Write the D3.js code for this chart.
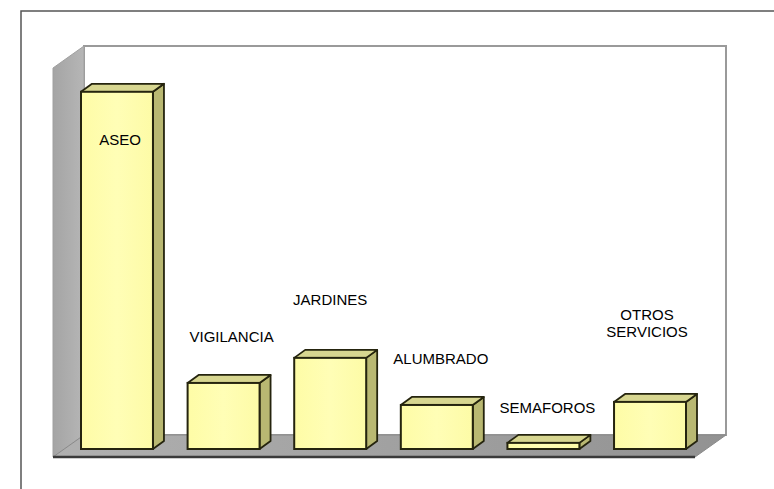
<!DOCTYPE html>
<html>
<head>
<meta charset="utf-8">
<script src="https://cdn.jsdelivr.net/npm/d3@7"></script>
<style>
  body { margin: 0; background: #fff; }
  text { font-family: "Liberation Sans", Arial, sans-serif; font-size: 15px; fill: #000; }
</style>
</head>
<body>
<script>
// data (percent share)
const categories = ["ASEO", "VIGILANCIA", "JARDINES", "ALUMBRADO", "SEMAFOROS", "OTROS SERVICIOS"];
const values = [58.4, 10.8, 14.9, 7.2, 1.0, 7.7];
// label placement: lift above bar top (negative = inside bar), sideways nudge
const labelLift = [-48, 46, 58, 46, 35, 70];
const labelShift = [3, 8, 0, 4, 4, -3];

const W = 774, H = 489;
const svg = d3.select("body").append("svg").attr("width", W).attr("height", H);

// gradients
const defs = svg.append("defs");
const gFront = defs.append("linearGradient").attr("id", "front").attr("x1", 0).attr("x2", 1);
gFront.append("stop").attr("offset", "0%").attr("stop-color", "#fefca6");
gFront.append("stop").attr("offset", "50%").attr("stop-color", "#fffeb6");
gFront.append("stop").attr("offset", "100%").attr("stop-color", "#fdfba6");
const gFloor = defs.append("linearGradient").attr("id", "floor").attr("x1", 0).attr("x2", 1);
gFloor.append("stop").attr("offset", "0%").attr("stop-color", "#b0b0b0");
gFloor.append("stop").attr("offset", "100%").attr("stop-color", "#929292");
const gWall = defs.append("linearGradient").attr("id", "wall").attr("x1", 0).attr("x2", 1);
gWall.append("stop").attr("offset", "0%").attr("stop-color", "#a4a4a4");
gWall.append("stop").attr("offset", "100%").attr("stop-color", "#b6b6b6");

// outer frame
svg.append("rect").attr("x", 21).attr("y", 11).attr("width", 800).attr("height", 600)
  .attr("fill", "none").attr("stroke", "#555").attr("stroke-width", 1.5);

// 3d box geometry
const front = { x0: 53, x1: 695, y: 457 };
const depth = { dx: 31, dy: -22 };
const wallTop = 46;

// back wall
svg.append("rect").attr("x", front.x0 + depth.dx).attr("y", wallTop)
  .attr("width", front.x1 - front.x0).attr("height", front.y + depth.dy - wallTop)
  .attr("fill", "#fff").attr("stroke", "#9a9a9a").attr("stroke-width", 2);

// left wall
svg.append("path")
  .attr("d", d3.line()([[front.x0, wallTop - depth.dy], [front.x0 + depth.dx, wallTop],
                        [front.x0 + depth.dx, front.y + depth.dy], [front.x0, front.y]]) + "Z")
  .attr("fill", "url(#wall)").attr("stroke", "#a0a0a0").attr("stroke-width", 1);

// floor
svg.append("path")
  .attr("d", d3.line()([[front.x0, front.y], [front.x0 + depth.dx, front.y + depth.dy],
                        [front.x1 + depth.dx, front.y + depth.dy], [front.x1, front.y]]) + "Z")
  .attr("fill", "url(#floor)").attr("stroke", "#8a8a8a").attr("stroke-width", 1);
svg.append("line").attr("x1", front.x0).attr("x2", front.x1).attr("y1", front.y).attr("y2", front.y)
  .attr("stroke", "#3a3a3a").attr("stroke-width", 2.5);

// scales
const base = 449;
const x = d3.scaleBand().domain(categories).range([81, 686]).paddingInner(0.325).paddingOuter(0);
const y = d3.scaleLinear().domain([0, 60]).range([base, base - 367]);
const bd = { dx: 11, dy: -8 };

const bars = svg.selectAll("g.bar").data(categories).enter().append("g").attr("class", "bar");

bars.each(function (c, i) {
  const g = d3.select(this);
  const x0 = x(c), x1 = x(c) + x.bandwidth(), yt = y(values[i]);
  const line = d3.line();
  // side
  g.append("path")
    .attr("d", line([[x1, yt], [x1 + bd.dx, yt + bd.dy], [x1 + bd.dx, base + bd.dy], [x1, base]]) + "Z")
    .attr("fill", "#b9b872").attr("stroke", "#25240e").attr("stroke-width", 1.8).attr("stroke-linejoin", "round");
  // top
  g.append("path")
    .attr("d", line([[x0, yt], [x0 + bd.dx, yt + bd.dy], [x1 + bd.dx, yt + bd.dy], [x1, yt]]) + "Z")
    .attr("fill", "#d7d690").attr("stroke", "#25240e").attr("stroke-width", 1.8).attr("stroke-linejoin", "round");
  // front
  g.append("rect").attr("x", x0).attr("y", yt).attr("width", x1 - x0).attr("height", base - yt)
    .attr("fill", "url(#front)").attr("stroke", "#25240e").attr("stroke-width", 2);
});

// labels
const labels = svg.selectAll("text.lbl").data(categories).enter().append("text")
  .attr("class", "lbl")
  .attr("text-anchor", "middle")
  .attr("transform", (c, i) => `translate(${x(c) + x.bandwidth() / 2 + labelShift[i]},${y(values[i]) - labelLift[i]})`);

labels.each(function (c) {
  const words = c.split(" ");
  const lh = 17;
  const t = d3.select(this);
  words.forEach((w, k) => {
    t.append("tspan").attr("x", 0)
      .attr("dy", k === 0 ? (-(words.length - 1) * lh + 5) : lh)
      .text(w);
  });
});
</script>
</body>
</html>
